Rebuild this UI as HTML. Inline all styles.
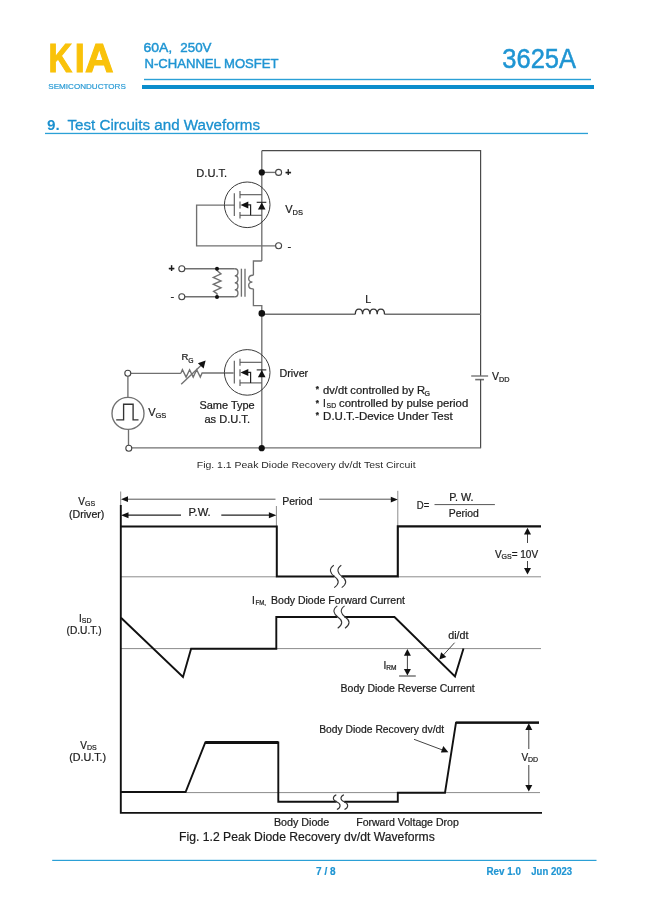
<!DOCTYPE html>
<html><head><meta charset="utf-8">
<style>
html,body{margin:0;padding:0;background:#fff;}
body{width:649px;height:917px;overflow:hidden;position:relative;}
svg{position:absolute;left:0;top:0;display:block;will-change:transform;}
text{font-family:"Liberation Sans",sans-serif;}
</style></head><body>
<svg width="649" height="917" viewBox="0 0 649 917">
<!-- HEADER -->
<g id="header">
<g font-size="41" font-weight="bold" fill="#F9C20A" stroke="#F9C20A" stroke-width="1.1">
<text x="48.6" y="72.3" textLength="23.6" lengthAdjust="spacingAndGlyphs">K</text>
<text x="74.8" y="72.3" textLength="10" lengthAdjust="spacingAndGlyphs">I</text>
<text x="85" y="72.3" textLength="28.5" lengthAdjust="spacingAndGlyphs">A</text>
</g>
<text x="48.3" y="89" font-size="7.8" fill="#2A9BD5" stroke="#2A9BD5" stroke-width="0.2" textLength="77.5" lengthAdjust="spacingAndGlyphs">SEMICONDUCTORS</text>
<g font-size="13" fill="#1F95D3" stroke="#1F95D3" stroke-width="0.45">
<text x="143.4" y="51.8" textLength="24.9" lengthAdjust="spacingAndGlyphs">60A</text>
<text x="168.6" y="51.8">,</text>
<text x="180.3" y="51.8" textLength="31.2" lengthAdjust="spacingAndGlyphs">250V</text>
</g>
<text x="144.5" y="68.2" font-size="13.2" fill="#1F95D3" stroke="#1F95D3" stroke-width="0.45" textLength="134" lengthAdjust="spacingAndGlyphs">N-CHANNEL MOSFET</text>
<text x="502.3" y="67.9" font-size="27.2" fill="#1F95D3" stroke="#1F95D3" stroke-width="0.5" textLength="73.8" lengthAdjust="spacingAndGlyphs">3625A</text>
<rect x="144" y="78.8" width="447" height="1.4" fill="#2BA0D6"/>
<rect x="142" y="85" width="452" height="4" fill="#0A8DCC"/>
</g>
<!-- SECTION HEADING -->
<text x="47" y="129.6" font-size="15.2" font-weight="bold" fill="#1A90CF">9.</text>
<text x="67.4" y="129.6" font-size="15.2" fill="#1A90CF" stroke="#1A90CF" stroke-width="0.3" textLength="192.6" lengthAdjust="spacingAndGlyphs">Test Circuits and Waveforms</text>
<rect x="45" y="132.8" width="543" height="1.3" fill="#2BA0D6"/>

<!-- CIRCUIT -->
<defs>
<g id="mos">
<circle cx="247.2" cy="204.8" r="22.8" fill="none" stroke="#3a3a3a" stroke-width="1"/>
<line x1="234.3" y1="193.2" x2="234.3" y2="216" stroke="#555" stroke-width="1.1"/>
<line x1="240" y1="191.1" x2="240" y2="198.2" stroke="#555" stroke-width="1.1"/>
<line x1="240" y1="201.6" x2="240" y2="208.6" stroke="#555" stroke-width="1.1"/>
<line x1="240" y1="212" x2="240" y2="218.4" stroke="#555" stroke-width="1.1"/>
<line x1="240" y1="194.7" x2="261.8" y2="194.7" stroke="#555" stroke-width="1.1"/>
<line x1="240" y1="215.3" x2="261.8" y2="215.3" stroke="#555" stroke-width="1.1"/>
<polyline points="246,204.8 250.6,204.8 250.6,215.3" fill="none" stroke="#222" stroke-width="1.2"/>
<polygon points="240.5,204.9 248.3,201.4 248.3,208.4" fill="#111"/>
<line x1="256.7" y1="202.3" x2="266.3" y2="202.3" stroke="#222" stroke-width="1.1"/>
<polygon points="261.8,202.4 257.9,209.6 265.5,209.6" fill="#111"/>
</g>
</defs>
<g fill="none" stroke="#707070" stroke-width="1.35">
<!-- top wire and right vertical -->
<polyline points="261.8,150.6 480.6,150.6 480.6,376" stroke="#4a4a4a" stroke-width="1.2"/>
<line x1="471.2" y1="376" x2="488.1" y2="376"/>
<line x1="475.2" y1="379.6" x2="484" y2="379.6" stroke-width="1.6"/>
<line x1="480.6" y1="379.6" x2="480.6" y2="448.2" stroke="#4a4a4a" stroke-width="1.2"/>
<line x1="480.6" y1="447.9" x2="128.5" y2="447.9"/>
<!-- main vertical DUT -->
<line x1="261.8" y1="150.7" x2="261.8" y2="261"/>
<polyline points="261.8,261 253.4,261 253.4,275.3"/>
<path d="M253.4,275.3 C247.6,274.8 247,282 252.4,282 C247,282 247.6,289.3 253.4,288.8"/>
<polyline points="253.4,288.8 253.4,305.6 261.8,305.6 261.8,448.2"/>
<!-- dut terminals -->
<line x1="261.8" y1="172.4" x2="275.6" y2="172.4"/>
<polyline points="234.3,205.1 196.6,205.1 196.6,245.8 275.6,245.8"/>
<!-- L line -->
<line x1="261.8" y1="314.2" x2="355.3" y2="314.2"/>
<line x1="384.5" y1="314.2" x2="480.6" y2="314.2"/>
<path d="M355.3,314.2 C355.3,307.5 362.6,307.5 362.6,314.2 C362.6,307.5 369.9,307.5 369.9,314.2 C369.9,307.5 377.2,307.5 377.2,314.2 C377.2,307.5 384.5,307.5 384.5,314.2" stroke="#333"/>
<!-- transformer primary -->
<polyline points="184.8,268.7 234.8,268.7"/>
<polyline points="184.8,296.7 234.8,296.7"/>
<path d="M234.8,268.7 C239,268.7 239,275.7 234.8,275.7 C239,275.7 239,282.7 234.8,282.7 C239,282.7 239,289.7 234.8,289.7 C239,289.7 239,296.7 234.8,296.7"/>
<line x1="241.4" y1="268.7" x2="241.4" y2="296.7"/>
<line x1="245" y1="268.7" x2="245" y2="296.7"/>
<path d="M217,268.7 L217,270.5 L221,273.9 L213.3,277.4 L221,280.9 L213.3,284.3 L221,287.8 L213.6,291.3 L217,293.6 L217,296.7"/>
<!-- driver gate & source -->
<polyline points="130.8,373.3 180.9,373.3"/>
<path d="M180.9,373.3 L182.4,369.7 L186.1,377.1 L189.6,369.7 L193.2,377.1 L196.7,369.7 L200.3,377.1 L202.1,373 L233.6,373"/>
<line x1="181.2" y1="384.2" x2="202.5" y2="364"/>
<line x1="127.9" y1="376.2" x2="127.9" y2="397.4"/>
<line x1="128.5" y1="429.4" x2="128.5" y2="445.2"/>
<circle cx="128" cy="413.4" r="16"/>
<polyline points="116.2,419.8 123.6,419.8 123.6,404.2 133.1,404.2 133.1,419.8 138.5,419.8" stroke="#333"/>
</g>
<polygon points="205.6,360.4 197.9,363.2 203.6,368.4" fill="#111"/>
<g fill="#111">
<circle cx="261.8" cy="172.4" r="3.1"/>
<circle cx="261.8" cy="313.4" r="3.3"/>
<circle cx="261.7" cy="448.2" r="3.1"/>
<circle cx="217" cy="268.7" r="2"/>
<circle cx="217" cy="297" r="2"/>
</g>
<g fill="#fff" stroke="#444" stroke-width="1.1">
<circle cx="278.6" cy="172.4" r="3"/>
<circle cx="278.6" cy="245.8" r="3"/>
<circle cx="181.8" cy="268.7" r="3"/>
<circle cx="181.8" cy="296.7" r="3"/>
<circle cx="127.8" cy="373.2" r="3"/>
<circle cx="128.8" cy="448.2" r="3"/>
</g>
<use href="#mos"/>
<use href="#mos" transform="translate(0,167.6)"/>
<g fill="#1c1c1c" stroke="#1c1c1c" stroke-width="0.22" font-size="11">
<text x="196.3" y="177.2" textLength="30.8" lengthAdjust="spacingAndGlyphs">D.U.T.</text>
<text x="285.2" y="175.6" font-size="10.5" font-weight="bold">+</text>
<text x="287.5" y="249.5" font-size="11">-</text>
<text x="168.4" y="272.2" font-size="10.5" font-weight="bold">+</text>
<text x="170.5" y="300" font-size="11">-</text>
<text x="285.2" y="213.2" font-size="11">V<tspan font-size="7.5" dy="1.7">DS</tspan></text>
<text x="365.2" y="303" font-size="10.5">L</text>
<text x="181.4" y="360.2" font-size="9.6">R<tspan font-size="6.8" dy="2.4">G</tspan></text>
<text x="148.2" y="416.4" font-size="11">V<tspan font-size="7.5" dy="1.5">GS</tspan></text>
<text x="279.5" y="376.8" textLength="28.7" lengthAdjust="spacingAndGlyphs" font-size="10.5">Driver</text>
<text x="199.4" y="408.6" textLength="55.3" lengthAdjust="spacingAndGlyphs" font-size="10.4">Same Type</text>
<text x="204.4" y="422.5" textLength="45.6" lengthAdjust="spacingAndGlyphs" font-size="10.4">as D.U.T.</text>
<text x="492" y="380.2" font-size="10.5">V<tspan font-size="7.3" dy="1.8">DD</tspan></text>
<text x="315.7" y="391.8" font-size="8.2" font-weight="bold">*</text>
<text x="315.7" y="405.8" font-size="8.2" font-weight="bold">*</text>
<text x="315.7" y="418.3" font-size="8.2" font-weight="bold">*</text>
<text x="323" y="393.6" font-size="10.2" textLength="102" lengthAdjust="spacingAndGlyphs">dv/dt controlled by R</text>
<text x="424.6" y="395.8" font-size="7">G</text>
<text x="322.9" y="407" font-size="10.2">I</text>
<text x="326.6" y="408" font-size="7.2" textLength="9.5" lengthAdjust="spacingAndGlyphs">SD</text>
<text x="339" y="407" font-size="10.2" textLength="129.2" lengthAdjust="spacingAndGlyphs">controlled by pulse period</text>
<text x="323.1" y="420.2" font-size="10.2" textLength="129.6" lengthAdjust="spacingAndGlyphs">D.U.T.-Device Under Test</text>
<text x="196.8" y="467.5" stroke="none" fill="#2a2a2a" font-size="8.8" textLength="218.8" lengthAdjust="spacingAndGlyphs">Fig. 1.1 Peak Diode Recovery dv/dt Test Circuit</text>
</g>

<!-- WAVEFORMS -->
<g fill="none" stroke="#8c8c8c" stroke-width="1">
<line x1="120.7" y1="491.5" x2="120.7" y2="506"/>
<line x1="276.4" y1="506" x2="276.4" y2="526"/>
<line x1="397.8" y1="490.8" x2="397.8" y2="526"/>
<line x1="121" y1="576.8" x2="276.4" y2="576.8"/>
<line x1="397.8" y1="576.8" x2="541" y2="576.8"/>
<line x1="121" y1="648.6" x2="541" y2="648.6"/>
<line x1="186" y1="792.6" x2="540" y2="792.6"/>
</g>
<g fill="none" stroke="#555" stroke-width="1">
<line x1="125" y1="499.2" x2="275.5" y2="499.2"/>
<line x1="319.2" y1="499.2" x2="393" y2="499.2"/>
<line x1="434.5" y1="504.6" x2="494.9" y2="504.6"/>
</g>
<g fill="none" stroke="#222" stroke-width="1.3">
<line x1="125" y1="515.2" x2="181" y2="515.2"/>
<line x1="221.3" y1="515.2" x2="272" y2="515.2"/>
</g>
<g fill="#111">
<polygon points="121,499.2 128,496.3 128,502.1"/>
<polygon points="397.8,499.6 390.8,496.7 390.8,502.5"/>
<polygon points="121,515.2 128.5,512.2 128.5,518.2"/>
<polygon points="276.4,515.2 268.9,512.2 268.9,518.2"/>
</g>
<!-- thick waveforms -->
<g fill="none" stroke="#111" stroke-width="1.9" stroke-linejoin="miter">
<polyline points="120.8,505 120.8,812.9 542,812.9"/>
<polyline points="120.8,526.6 276.8,526.6 276.8,576.4 334.5,576.4" stroke-width="2"/>
<polyline points="341.5,576.4 397.8,576.4 397.8,526.4 541,526.4" stroke-width="2.1"/>
<polyline points="121,617.7 183,677 191.1,648.8 276.3,648.8 276.3,617 337.5,617"/>
<polyline points="344.5,617 394.5,617 455,676.4 463.5,648.5"/>
<polyline points="121,792 185.6,792 205.3,742.5 278.3,742.5 278.3,801.7 336.6,801.7"/>
<line x1="205.3" y1="742.5" x2="278.3" y2="742.5" stroke-width="2.8"/>
<polyline points="344.2,801.7 397.8,801.7 397.8,792.7 445,792.7 456,722.6 539,722.6"/>
<line x1="456" y1="722.6" x2="539" y2="722.6" stroke-width="2.2"/>
</g>
<!-- break marks -->
<g fill="none" stroke="#333" stroke-width="1.1">
<path id="brk" d="M333.8,565.3 C328.5,569 330,573.5 334.6,576.6 C339.5,580 339.5,584 334.2,587.6"/>
<path d="M341.3,565.3 C336,569 337.5,573.5 342.1,576.6 C347,580 347,584 341.7,587.6"/>
<path d="M337.3,605.9 C332,609.6 333.5,614.1 338.1,617.2 C343,620.6 343,624.6 337.7,628.2"/>
<path d="M344.6,605.9 C339.3,609.6 340.8,614.1 345.4,617.2 C350.3,620.6 350.3,624.6 345,628.2"/>
<path d="M336.3,794.7 C332.3,796.6 332.3,800 336.6,801.7 C341.4,803.7 341,807.6 336.9,809.5"/>
<path d="M343.9,794.7 C339.9,796.6 339.9,800 344.2,801.7 C349,803.7 348.6,807.6 344.5,809.5"/>
</g>
<!-- dimension arrows -->
<g fill="none" stroke="#444" stroke-width="1">
<line x1="527.5" y1="532" x2="527.5" y2="543"/>
<line x1="527.5" y1="561" x2="527.5" y2="570"/>
<line x1="407.4" y1="654" x2="407.4" y2="671"/>
<line x1="399.1" y1="676" x2="415.8" y2="676" stroke="#333"/>
<line x1="528.8" y1="728" x2="528.8" y2="749"/>
<line x1="528.8" y1="765" x2="528.8" y2="786"/>
<line x1="454.6" y1="642.7" x2="442" y2="656.5"/>
<line x1="414" y1="739.3" x2="443" y2="750.2"/>
</g>
<g fill="#111">
<polygon points="527.5,527.8 524,534.5 531,534.5"/>
<polygon points="527.5,574.6 524,567.9 531,567.9"/>
<polygon points="407.4,649 403.9,655.7 410.9,655.7"/>
<polygon points="407.4,675.6 403.9,668.9 410.9,668.9"/>
<polygon points="528.8,723.2 525.3,729.9 532.3,729.9"/>
<polygon points="528.8,791.6 525.3,784.9 532.3,784.9"/>
<polygon points="439.3,659.6 441.1,652.3 446.3,657.0"/>
<polygon points="448.4,752.2 440.9,752.4 443.3,745.9"/>
</g>
<g fill="#1c1c1c" stroke="#1c1c1c" stroke-width="0.22" font-size="10">
<text x="78.3" y="505" font-size="10">V<tspan font-size="7" dy="1">GS</tspan></text>
<text x="69" y="518.2" textLength="35.4" lengthAdjust="spacingAndGlyphs">(Driver)</text>
<text x="282.2" y="504.7" textLength="30.3" lengthAdjust="spacingAndGlyphs">Period</text>
<text x="188.5" y="515.9" textLength="22.2" lengthAdjust="spacingAndGlyphs">P.W.</text>
<text x="416.8" y="509.3" textLength="12.4" lengthAdjust="spacingAndGlyphs">D=</text>
<text x="449.3" y="501" textLength="24.2" lengthAdjust="spacingAndGlyphs">P. W.</text>
<text x="448.8" y="517" textLength="30.1" lengthAdjust="spacingAndGlyphs">Period</text>
<text x="494.9" y="557.7" font-size="10">V<tspan font-size="7" dy="1">GS</tspan><tspan dy="-1">= 10V</tspan></text>
<text x="252" y="603.9" font-size="10.2">I</text>
<text x="255.5" y="605" font-size="7" textLength="10.5" lengthAdjust="spacingAndGlyphs">FM,</text>
<text x="271" y="603.9" font-size="10.2" textLength="134" lengthAdjust="spacingAndGlyphs">Body Diode Forward Current</text>
<text x="79" y="621.6" font-size="10">I<tspan font-size="7" dy="1">SD</tspan></text>
<text x="66.5" y="634.4" textLength="35.1" lengthAdjust="spacingAndGlyphs">(D.U.T.)</text>
<text x="448.2" y="639" textLength="20.2" lengthAdjust="spacingAndGlyphs">di/dt</text>
<text x="383.5" y="668.7" font-size="10">I<tspan font-size="6.6" dy="0.8">RM</tspan></text>
<text x="340.6" y="692.4" textLength="134.2" lengthAdjust="spacingAndGlyphs">Body Diode Reverse Current</text>
<text x="80.3" y="748.5" font-size="10">V<tspan font-size="7" dy="1">DS</tspan></text>
<text x="69.2" y="761.2" textLength="37" lengthAdjust="spacingAndGlyphs">(D.U.T.)</text>
<text x="319.2" y="733" textLength="125" lengthAdjust="spacingAndGlyphs">Body Diode Recovery dv/dt</text>
<text x="521.4" y="761" font-size="10">V<tspan font-size="7" dy="1">DD</tspan></text>
<text x="273.9" y="826" textLength="55.4" lengthAdjust="spacingAndGlyphs">Body Diode</text>
<text x="356.2" y="826" textLength="102.6" lengthAdjust="spacingAndGlyphs">Forward Voltage Drop</text>
<text x="179.1" y="841" font-size="12.5" textLength="255.7" lengthAdjust="spacingAndGlyphs">Fig. 1.2 Peak Diode Recovery dv/dt Waveforms</text>
</g>
<!-- FOOTER -->
<rect x="52.2" y="859.8" width="544.3" height="1.2" fill="#2BA0D6"/>
<g fill="#1F95D3" stroke="#1F95D3" stroke-width="0.2" font-size="10.2" font-weight="bold">
<text x="316.1" y="875" textLength="19.5" lengthAdjust="spacingAndGlyphs">7 / 8</text>
<text x="486.5" y="875" textLength="34.4" lengthAdjust="spacingAndGlyphs">Rev 1.0</text>
<text x="531.3" y="875" textLength="40.8" lengthAdjust="spacingAndGlyphs">Jun 2023</text>
</g>
</svg>
</body></html>
